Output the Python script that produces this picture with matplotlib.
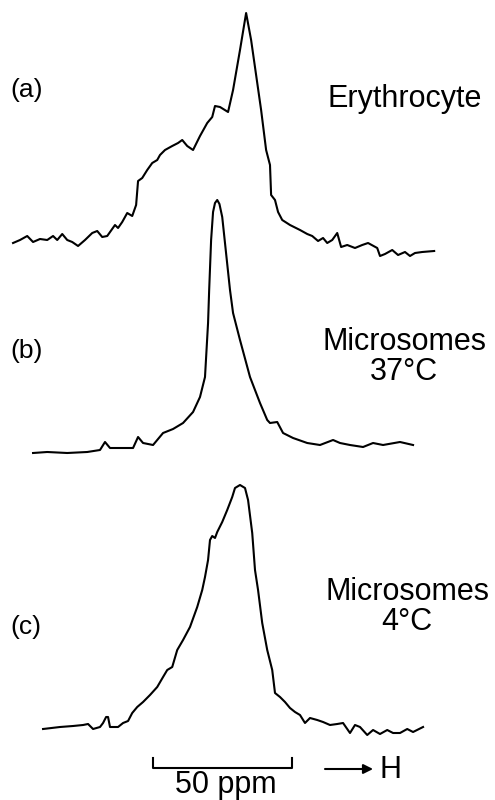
import numpy as np
import matplotlib
matplotlib.use("Agg")
import matplotlib.pyplot as plt

plt.rcParams['font.family'] = ['Liberation Sans', 'DejaVu Sans']

# chemical shift (ppm, relative to the microsome 37C peak) and intensity (arb. units)
ppm_a = [-73.1, -70.6, -68.0, -65.9, -63.4, -60.8, -58.7, -57.2, -55.4, -53.6,
         -51.8, -49.7, -47.2, -44.6, -42.8, -41.0, -39.2, -36.4, -35.3, -33.8,
         -32.0, -30.2, -28.8, -28.1, -26.6, -24.8, -23.0, -21.2, -20.2, -18.4,
         -15.8, -13.7, -12.2, -10.4, -8.3, -5.8, -3.2, -1.4, -0.4, 1.4,
         4.3, 6.1, 8.6, 10.8, 12.6, 14.4, 16.2, 18.0, 19.4, 19.8,
         21.2, 22.3, 23.8, 26.6, 30.2, 32.8, 34.6, 36.7, 38.5, 40.0,
         41.8, 43.6, 45.0, 47.2, 50.0, 52.6, 54.7, 58.0, 59.0, 60.8,
         63.4, 65.5, 68.0, 69.8, 71.6, 74.2, 78.5]
int_a = [-1, 2, 6, 0, 3, 2, 6, 2, 8, 2,
         0, -4, 2, 9, 11, 5, 6, 17, 14, 20,
         29, 26, 37, 61, 64, 72, 79, 82, 87, 92,
         96, 99, 102, 96, 92, 106, 119, 125, 136, 135,
         130, 152, 192, 229, 202, 167, 132, 92, 77, 47,
         42, 30, 22, 17, 12, 8, 6, 1, 4, -1,
         2, 9, -5, -3, -6, -3, -1, -6, -14, -12,
         -8, -13, -10, -14, -11, -10, -9]

ppm_b = [-65.9, -60.8, -53.6, -46.4, -41.8, -40.0, -38.2, -29.9, -28.1, -26.3,
         -22.7, -19.1, -15.5, -11.9, -8.3, -5.8, -4.0, -2.9, -2.5, -1.8,
         -1.1, -0.4, 0.4, 1.2, 2.2, 5.0, 6.1, 8.6, 12.2, 15.8, 18.4, 19.4,
         22.0, 24.1, 27.7, 32.8, 37.4, 42.1, 44.6, 48.2, 52.9, 56.5,
         60.1, 66.2, 70.9]
int_b = [-1, 0, -1, 0, 2, 10, 4, 4, 15, 9,
         7, 19, 23, 29, 40, 55, 75, 129, 162, 212,
         240, 249, 252, 248, 235, 162, 139, 112, 75, 49, 32, 29,
         30, 19, 14, 9, 7, 12, 9, 7, 5, 9,
         7, 10, 7]

ppm_c = [-62.3, -56.2, -51.5, -47.9, -46.1, -44.3, -41.8, -40.7, -39.6, -38.9,
         -38.2, -35.3, -33.5, -31.7, -30.2, -28.4, -26.3, -23.8, -21.2, -19.1,
         -17.6, -15.8, -14.0, -11.9, -9.4, -6.8, -5.0, -4.0, -2.9, -2.2,
         -1.4, -0.4, 0.4, 2.2, 4.0, 5.8, 6.8, 8.6, 10.4, 11.5,
         13.0, 14.0, 15.1, 16.6, 18.4, 20.2, 21.2, 23.0, 24.8, 26.6,
         28.4, 30.2, 32.0, 33.8, 36.4, 38.5, 41.0, 43.6, 45.7, 48.2,
         50.0, 51.8, 54.4, 56.5, 59.0, 61.6, 63.7, 66.2, 68.8, 70.9,
         74.5]
int_c = [-2, 0, 1, 2, 3, -2, 0, 4, 10, 10,
         0, 0, 4, 6, 14, 20, 25, 32, 40, 50,
         57, 60, 77, 87, 100, 120, 137, 150, 167, 187,
         191, 189, 195, 205, 217, 230, 239, 242, 239, 227,
         194, 157, 137, 104, 77, 57, 34, 30, 25, 19,
         15, 12, 4, 9, 7, 5, 2, 3, 4, -6,
         2, 0, -8, -3, -7, -3, -6, -6, -2, -5,
         0]

panel_tags = ["(a)", "(b)", "(c)"]
sample_names = ["Erythrocyte", "Microsomes\n37\u00b0C", "Microsomes\n4\u00b0C"]
scale_ppm = 50

fig = plt.figure(figsize=(4.95, 8), dpi=100)
ax = fig.add_axes([0, 0, 1, 1])
ax.set_xlim(-77.8, 100.4)
ax.set_ylim(0, 800)
ax.axis('off')

# stacked spectra: baseline offsets
offsets = [558, 348, 73]
spectra = [(ppm_a, int_a), (ppm_b, int_b), (ppm_c, int_c)]
for (x, y), off in zip(spectra, offsets):
    ax.plot(x, np.array(y) + off, color='black', lw=1.5, solid_joinstyle='round')

# panel tags and sample names
tag_y = [703, 442, 166]
for tag, ty in zip(panel_tags, tag_y):
    ax.text(-74.2, ty, tag, fontsize=19, ha='left', va='baseline')

ax.text(68.0, 693, sample_names[0], fontsize=22, ha='center', va='baseline')
ax.text(67.7, 420, sample_names[1], fontsize=22, ha='center', va='baseline',
        multialignment='center', linespacing=1.0)
ax.text(68.8, 170, sample_names[2], fontsize=22, ha='center', va='baseline',
        multialignment='center', linespacing=1.0)

# scale bar
x0 = -22.7
ax.plot([x0, x0, x0 + scale_ppm, x0 + scale_ppm], [42, 32, 32, 42],
        color='black', lw=1.5)
ax.text(x0 + scale_ppm / 2 + 1.3, 7, f"{scale_ppm} ppm", fontsize=22,
        ha='center', va='baseline')

# field direction arrow
ax.annotate("", xy=(56.5, 31), xytext=(39.2, 31),
            arrowprops=dict(arrowstyle='-|>', color='black', lw=1.5,
                            mutation_scale=14, shrinkA=0, shrinkB=0))
ax.text(59.0, 22, "H", fontsize=22, ha='left', va='baseline')

fig.savefig("out.png", dpi=100)
